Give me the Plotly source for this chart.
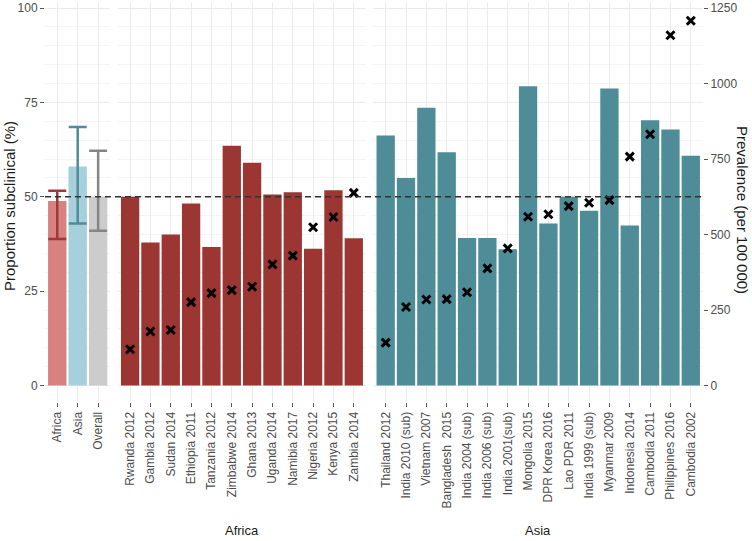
import plotly.graph_objects as go

# summary panel
summary_groups = ["Africa", "Asia", "Overall"]
summary_pct = [48.9, 58.0, 50.0]
summary_low = [38.8, 42.9, 41.0]
summary_high = [51.6, 68.5, 62.2]

africa_surveys = ["Rwanda 2012", "Gambia 2012", "Sudan 2014", "Ethiopia 2011",
                  "Tanzania 2012", "Zimbabwe 2014", "Ghana 2013", "Uganda 2014",
                  "Namibia 2017", "Nigeria 2012", "Kenya 2015", "Zambia 2014"]
africa_pct = [50.0, 37.9, 40.0, 48.2, 36.7, 63.5, 59.0, 50.6, 51.2, 36.2, 51.7, 39.0]
africa_prev = [120, 179, 184, 276, 306, 316, 327, 401, 430, 524, 558, 638]

asia_surveys = ["Thailand 2012", "India 2010 (sub)", "Vietnam 2007", "Bangladesh\u00a0 2015",
                "India 2004 (sub)", "India 2006 (sub)", "India 2001(sub)", "Mongolia 2015",
                "DPR Korea 2016", "Lao PDR 2011", "India 1999 (sub)", "Myanmar 2009",
                "Indonesia 2014", "Cambodia 2011", "Philippines 2016", "Cambodia 2002"]
asia_pct = [66.2, 55.0, 73.6, 61.8, 39.1, 39.1, 36.1, 79.3, 42.9, 50.0, 46.3, 78.7,
            42.4, 70.3, 67.8, 60.9]
asia_prev = [142, 260, 285, 286, 309, 388, 454, 559, 567, 594, 605, 614, 758, 832,
             1160, 1208]

overall_line = 50.0

prop_ticks = [0, 25, 50, 75, 100]
prev_ticks = [0, 250, 500, 750, 1000, 1250]

summary_fill = ["#D88181", "#A6D0DB", "#CCCCCC"]
summary_err = ["#9C3A35", "#4E8C98", "#858585"]
AFRICA_COL = "#9B3632"
ASIA_COL = "#4E8C98"
FONT = "Liberation Sans, Arial, sans-serif"
GRID = "#EBEBEB"


def xaxis_style(domain, n):
    return dict(domain=domain, range=[-0.6, n - 0.4], type="category",
                tickangle=-90, ticks="outside", ticklen=4, tickcolor="#555555",
                showgrid=True, gridcolor=GRID, gridwidth=1, showline=False,
                zeroline=False, tickfont=dict(size=12, color="#4D4D4D"),
                anchor="y", automargin=False)


def build_figure():
    fig = go.Figure()

    for i, grp in enumerate(summary_groups):
        fig.add_trace(go.Bar(
            x=[grp], y=[summary_pct[i]], width=0.9, xaxis="x", yaxis="y",
            marker=dict(color=summary_fill[i], line=dict(width=0)),
            error_y=dict(type="data", symmetric=False,
                         array=[summary_high[i] - summary_pct[i]],
                         arrayminus=[summary_pct[i] - summary_low[i]],
                         color=summary_err[i], thickness=2.5, width=9),
            showlegend=False))

    fig.add_trace(go.Bar(x=africa_surveys, y=africa_pct, width=0.9, xaxis="x2", yaxis="y",
                         marker=dict(color=AFRICA_COL, line=dict(width=0)), showlegend=False))
    fig.add_trace(go.Bar(x=asia_surveys, y=asia_pct, width=0.9, xaxis="x3", yaxis="y",
                         marker=dict(color=ASIA_COL, line=dict(width=0)), showlegend=False))

    cross = dict(symbol="x-thin", size=8, color="black", line=dict(width=3, color="black"))
    fig.add_trace(go.Scatter(x=africa_surveys, y=africa_prev, mode="markers", xaxis="x2",
                             yaxis="y2", marker=cross, showlegend=False))
    fig.add_trace(go.Scatter(x=asia_surveys, y=asia_prev, mode="markers", xaxis="x3",
                             yaxis="y2", marker=cross, showlegend=False))

    y_lo, y_hi = -4.37, 101.6
    fig.update_layout(
        width=752, height=541,
        margin=dict(l=45, r=49, t=2, b=139),
        paper_bgcolor="white", plot_bgcolor="white",
        barmode="overlay",
        font=dict(family=FONT, color="#1A1A1A"),
        xaxis=xaxis_style([0.0, 0.0994], len(summary_groups)),
        xaxis2=xaxis_style([0.1108, 0.4878], len(africa_surveys)),
        xaxis3=xaxis_style([0.4992, 1.0], len(asia_surveys)),
        yaxis=dict(range=[y_lo, y_hi], tickvals=prop_ticks, ticks="outside", ticklen=4,
                   tickcolor="#555555", showgrid=True, gridcolor=GRID, gridwidth=1,
                   zeroline=False, showline=False, anchor="x", automargin=False,
                   tickfont=dict(size=12, color="#4D4D4D"),
                   minor=dict(dtick=5, tick0=0, showgrid=True, gridcolor="#F4F4F4",
                              gridwidth=0.6)),
        yaxis2=dict(range=[y_lo * 12.5, y_hi * 12.5], tickvals=prev_ticks, side="right",
                    overlaying="y", anchor="x3", ticks="outside", ticklen=4,
                    tickcolor="#555555", showgrid=False, zeroline=False, showline=False,
                    automargin=False, tickfont=dict(size=12, color="#4D4D4D")),
        shapes=[dict(type="line", xref="paper", yref="y", x0=0, x1=1,
                     y0=overall_line, y1=overall_line,
                     line=dict(color="#333333", width=1.5, dash="6px,4px"))],
        annotations=[
            dict(text="Proportion subclinical (%)", xref="paper", yref="paper",
                 x=-0.0547, y=0.49, xanchor="center", yanchor="middle",
                 textangle=-90, showarrow=False,
                 font=dict(size=15, color="#1A1A1A")),
            dict(text="Prevalence (per 100\u2009000)", xref="paper", yref="paper",
                 x=1.0608, y=0.48, xanchor="center", yanchor="middle",
                 textangle=90, showarrow=False,
                 font=dict(size=15, color="#1A1A1A")),
            dict(text="Africa", xref="x2 domain", yref="paper", x=0.5, y=-0.32,
                 xanchor="center", yanchor="middle",
                 showarrow=False, font=dict(size=13, color="#1A1A1A")),
            dict(text="Asia", xref="x3 domain", yref="paper", x=0.5, y=-0.32,
                 xanchor="center", yanchor="middle",
                 showarrow=False, font=dict(size=13, color="#1A1A1A")),
        ],
    )
    return fig


if __name__ == "__main__":
    fig = build_figure()
    # the page body has an 8px default margin, drop it so the figure sits at 0,0
    fig.write_html("out.html", config={"displayModeBar": False},
                   post_script="document.body.style.margin = '0';")
